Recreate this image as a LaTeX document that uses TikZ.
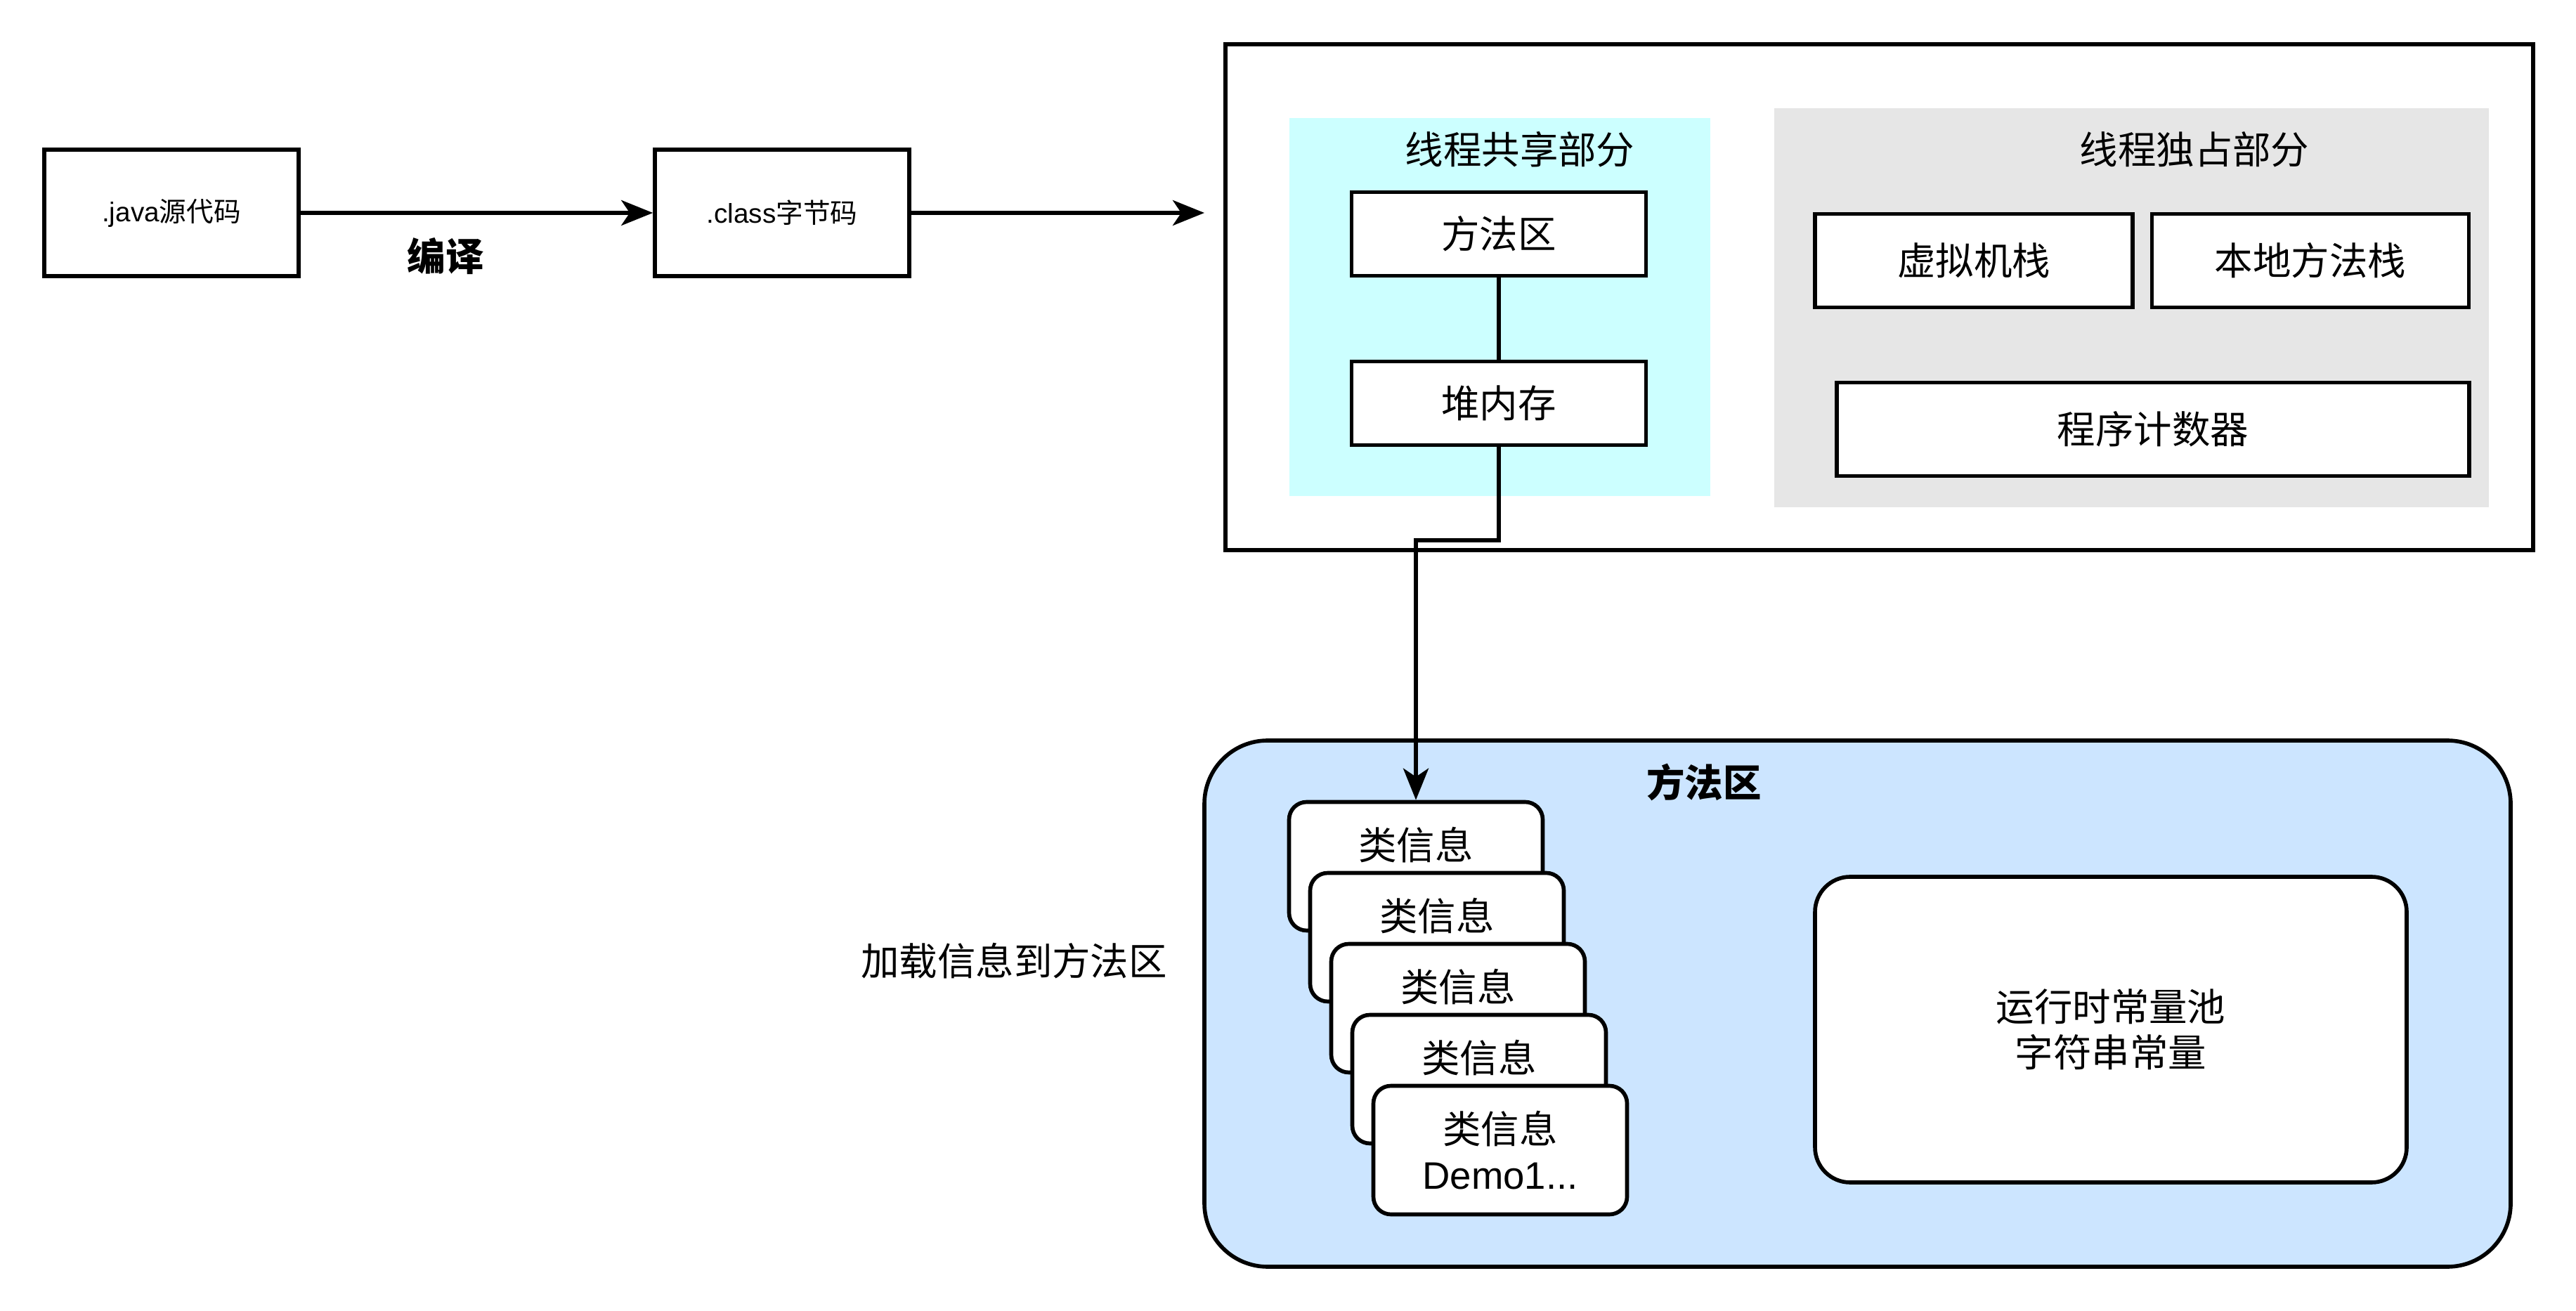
\documentclass[tikz,border=0pt]{standalone}
\usepackage{fontspec}
\setmainfont{Noto Sans CJK SC}
\newfontfamily\lat{Liberation Sans}
\usetikzlibrary{positioning}
\usetikzlibrary{arrows.meta}
\definecolor{sharedcyan}{HTML}{CCFFFF}
\definecolor{owngray}{HTML}{E6E6E6}
\definecolor{areablue}{HTML}{CCE5FF}
\tikzset{>={Stealth[length=4.5mm,width=3.6mm,inset=1.2mm]}}
\tikzset{lbl/.style={font=\fontsize{15.5}{18.5}\selectfont, align=center, inner sep=0pt}}
\tikzset{blk/.style={draw, line width=1.6pt, fill=white, lbl, minimum width=4.19cm, minimum height=1.19cm}}
\tikzset{src/.style={draw, line width=1.6pt, fill=white, font=\fontsize{11}{13}\selectfont, minimum width=3.62cm, minimum height=1.80cm}}
\tikzset{region/.style={draw=none, inner sep=0pt}}
\tikzset{card/.style={draw, line width=1.6pt, fill=white, rounded corners=0.25cm, lbl, minimum width=3.61cm, minimum height=1.83cm}}
\tikzset{conn/.style={line width=1.6pt}}
\newcommand{\hidden}{类信息\\\phantom{\lat Demo1...}}

\begin{document}
\begin{tikzpicture}
\useasboundingbox (0,0) rectangle (36.66,-18.66);
\begin{scope}[on grid]

% compile step
\node[src] (java) at (2.44,-3.03) {{\lat .java}源代码};
\node[src] (cls) at (11.13,-3.03) {{\lat .class}字节码};
\node[lbl, font=\fontsize{15.5}{18.5}\selectfont\bfseries] (compile) at (6.34,-3.65) {编译};
\coordinate (jvmin) at (17.14,-3.03);
\draw[conn,->] (java) -- (cls);
\draw[conn,->] (cls) -- (jvmin);

% runtime data area
\node[draw, line width=1.6pt, minimum width=18.61cm, minimum height=7.20cm] (jvm) at (26.745,-4.23) {};
\node[region, fill=sharedcyan, minimum width=5.99cm, minimum height=5.38cm] (shared) at (21.345,-4.37) {};
\node[region, fill=owngray, minimum width=10.17cm, minimum height=5.68cm] (own) at (30.335,-4.38) {};
\node[lbl] (sharedt) at (21.63,-2.13) {线程共享部分};
\node[lbl] (ownt) at (31.23,-2.13) {线程独占部分};

\node[blk] (ma) at (21.33,-3.33) {方法区};
\node[blk, below=2.41 of ma] (heap) {堆内存};
\draw[conn] (ma) -- (heap);

\node[blk, minimum width=4.52cm, minimum height=1.33cm] (vms) at (28.09,-3.71) {虚拟机栈};
\node[blk, minimum width=4.51cm, minimum height=1.33cm, right=4.79 of vms] (nms) {本地方法栈};
\node[blk, minimum width=9.00cm, minimum height=1.33cm] (pc) at (30.64,-6.11) {程序计数器};

% method area detail
\node[draw, line width=1.6pt, fill=areablue, rounded corners=0.9cm, minimum width=18.59cm, minimum height=7.49cm] (area) at (26.435,-14.285) {};
\node[lbl, font=\fontsize{15.5}{18.5}\selectfont\bfseries] (areat) at (24.25,-11.13) {方法区};

\node[card] (c1) at (20.15,-12.33) {\hidden};
\node[card, below right=1.01 and 0.30 of c1] (c2) {\hidden};
\node[card, below right=1.01 and 0.30 of c2] (c3) {\hidden};
\node[card, below right=1.01 and 0.30 of c3] (c4) {\hidden};
\node[card, below right=1.01 and 0.30 of c4] (c5) {类信息\\{\lat Demo1...}};

\node[card, rounded corners=0.5cm, minimum width=8.42cm, minimum height=4.35cm] (pool) at (30.04,-14.655) {运行时常量池\\字符串常量};

\node[lbl] (load) at (14.43,-13.68) {加载信息到方法区};

\draw[conn,->] (heap.south) -- ++(0,-1.33) -| (c1.north);

\end{scope}
\end{tikzpicture}
\end{document}
